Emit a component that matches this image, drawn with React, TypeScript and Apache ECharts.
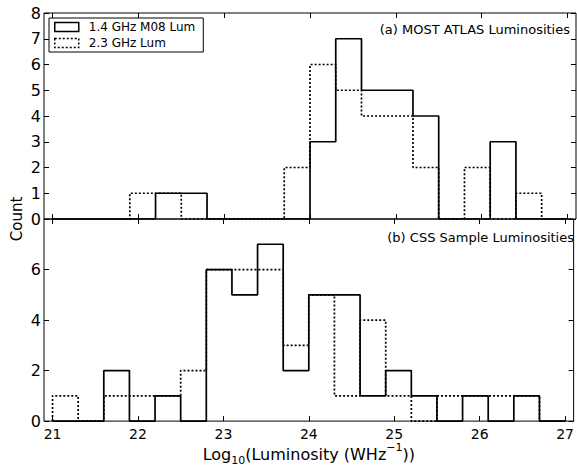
import React, { useEffect, useRef } from "react";
import * as echarts from "echarts";

// Histogram bin edges (log10 luminosity, W/Hz)
const binEdges = [21.0, 21.3, 21.6, 21.9, 22.2, 22.5, 22.8, 23.1, 23.4, 23.7, 24.0, 24.3, 24.6, 24.9, 25.2, 25.5, 25.8, 26.1, 26.4, 26.7, 27.0];

// (a) MOST ATLAS luminosities: counts per bin
const mostLum14 = [0, 0, 0, 0, 1, 1, 0, 0, 0, 0, 3, 7, 5, 5, 4, 0, 0, 3, 0, 0];
const mostLum23 = [0, 0, 0, 1, 1, 0, 0, 0, 0, 2, 6, 5, 4, 4, 2, 0, 2, 0, 1, 0];

// (b) CSS sample luminosities: counts per bin
const cssLum14 = [0, 0, 2, 0, 1, 0, 6, 5, 7, 2, 5, 5, 1, 2, 1, 0, 1, 0, 1, 0];
const cssLum23 = [1, 0, 1, 1, 1, 2, 6, 6, 6, 3, 5, 1, 4, 1, 0, 1, 1, 1, 1, 0];

// Tick values
const xTicks = [21, 22, 23, 24, 25, 26, 27];
const yTicksTop = [0, 1, 2, 3, 4, 5, 6, 7, 8];
const yTicksBottom = [0, 2, 4, 6, 8];

const seriesNames = ["1.4 GHz M08 Lum", "2.3 GHz Lum"];

const FONT = '"DejaVu Sans", "Liberation Sans", sans-serif';

// Build a step-histogram outline from edges + counts
function stepOutline(counts: number[]): number[][] {
  const pts: number[][] = [[binEdges[0], 0]];
  counts.forEach((c, i) => {
    pts.push([binEdges[i], c]);
    pts.push([binEdges[i + 1], c]);
  });
  pts.push([binEdges[binEdges.length - 1], 0]);
  return pts;
}

function xAxis(gridIndex: number, position: "top" | "bottom", showLabels: boolean, extra: any = {}) {
  return {
    type: "value",
    gridIndex,
    position,
    min: 20.9,
    max: 27.1,
    axisLine: { show: false, onZero: false },
    splitLine: { show: false },
    axisTick: { show: true, inside: true, length: 5, customValues: xTicks, lineStyle: { color: "#000", width: 1 } },
    axisLabel: {
      show: showLabels,
      customValues: xTicks,
      margin: 6,
      fontSize: 14,
      color: "#000",
      fontFamily: FONT,
      formatter: (v: number) => String(v),
    },
    ...extra,
  };
}

function yAxis(gridIndex: number, position: "left" | "right", showLabels: boolean, ticks: number[], hideMax: boolean) {
  return {
    type: "value",
    gridIndex,
    position,
    min: 0,
    max: 8,
    interval: ticks[1] - ticks[0],
    axisLine: { show: false, onZero: false },
    splitLine: { show: false },
    axisTick: { show: true, inside: true, length: 5, lineStyle: { color: "#000", width: 1 } },
    axisLabel: {
      show: showLabels,
      showMaxLabel: !hideMax,
      margin: 3,
      fontSize: 16,
      color: "#000",
      fontFamily: FONT,
    },
  };
}

export default function App() {
  const ref = useRef<HTMLDivElement>(null);

  useEffect(() => {
    if (!ref.current) return;
    const chart = echarts.init(ref.current, undefined, { renderer: "svg" });

    const solid = { color: "#000", width: 1.7, type: "solid" };
    const dotted = { color: "#000", width: 1.7, type: [2, 2] };

    const option: any = {
      animation: false,
      backgroundColor: "#fff",
      grid: [
        { left: 44, right: 1, top: 13, height: 206, show: true, borderColor: "#000", borderWidth: 1, backgroundColor: "transparent" },
        { left: 44, right: 1, top: 219, height: 206, show: true, borderColor: "#000", borderWidth: 1, backgroundColor: "transparent" },
      ],
      xAxis: [
        xAxis(0, "bottom", false),
        xAxis(0, "top", false),
        xAxis(1, "bottom", true, {
          name: "{n|Log}{s|10}{n|(Luminosity (WHz}{p|\u22121}{n|))}",
          nameLocation: "middle",
          nameGap: 20,
          nameTextStyle: {
            color: "#000",
            fontFamily: FONT,
            rich: {
              n: { fontSize: 16, fontFamily: FONT, color: "#000", lineHeight: 24, verticalAlign: "middle" },
              s: { fontSize: 11, fontFamily: FONT, color: "#000", verticalAlign: "bottom" },
              p: { fontSize: 11, fontFamily: FONT, color: "#000", verticalAlign: "top" },
            },
          },
        }),
        xAxis(1, "top", false),
      ],
      yAxis: [
        yAxis(0, "left", true, yTicksTop, false),
        yAxis(0, "right", false, yTicksTop, false),
        yAxis(1, "left", true, yTicksBottom, true),
        yAxis(1, "right", false, yTicksBottom, true),
      ],
      legend: {
        left: 49,
        top: 18,
        orient: "vertical",
        padding: [3, 8, 3, 5],
        itemGap: 4,
        itemWidth: 24,
        itemHeight: 9,
        borderColor: "#000",
        borderWidth: 1,
        borderRadius: 0,
        backgroundColor: "#fff",
        selectedMode: false,
        textStyle: { fontFamily: FONT, fontSize: 12, color: "#000", padding: [0, 0, 0, 5] },
        data: [
          { name: seriesNames[0], icon: "rect", itemStyle: { color: "#fff", borderColor: "#000", borderWidth: 1.5 } },
          { name: seriesNames[1], icon: "rect", itemStyle: { color: "#fff", borderColor: "#000", borderWidth: 1.5, borderType: [2, 2] } },
        ],
      },
      graphic: [
        {
          type: "text",
          right: 7,
          top: 23,
          style: { text: "(a) MOST ATLAS Luminosities", font: `13px ${FONT}`, fill: "#000" },
        },
        {
          type: "text",
          right: 3,
          top: 231,
          style: { text: "(b) CSS Sample Luminosities", font: `13px ${FONT}`, fill: "#000" },
        },
        {
          type: "text",
          x: 17,
          y: 219,
          rotation: Math.PI / 2,
          style: { text: "Count", font: `15px ${FONT}`, fill: "#000", textAlign: "center", textVerticalAlign: "middle" },
        },
      ],
      series: [
        { name: seriesNames[1], type: "line", xAxisIndex: 0, yAxisIndex: 0, data: stepOutline(mostLum23), symbol: "none", lineStyle: dotted, itemStyle: { color: "#000" }, z: 2 },
        { name: seriesNames[0], type: "line", xAxisIndex: 0, yAxisIndex: 0, data: stepOutline(mostLum14), symbol: "none", lineStyle: solid, itemStyle: { color: "#000" }, z: 3 },
        { name: seriesNames[1], type: "line", xAxisIndex: 2, yAxisIndex: 2, data: stepOutline(cssLum23), symbol: "none", lineStyle: dotted, itemStyle: { color: "#000" }, z: 2 },
        { name: seriesNames[0], type: "line", xAxisIndex: 2, yAxisIndex: 2, data: stepOutline(cssLum14), symbol: "none", lineStyle: solid, itemStyle: { color: "#000" }, z: 3 },
      ],
    };

    chart.setOption(option);
    return () => chart.dispose();
  }, []);

  return <div ref={ref} style={{ position: "fixed", left: 0, top: 0, width: 577, height: 467 }} />;
}
